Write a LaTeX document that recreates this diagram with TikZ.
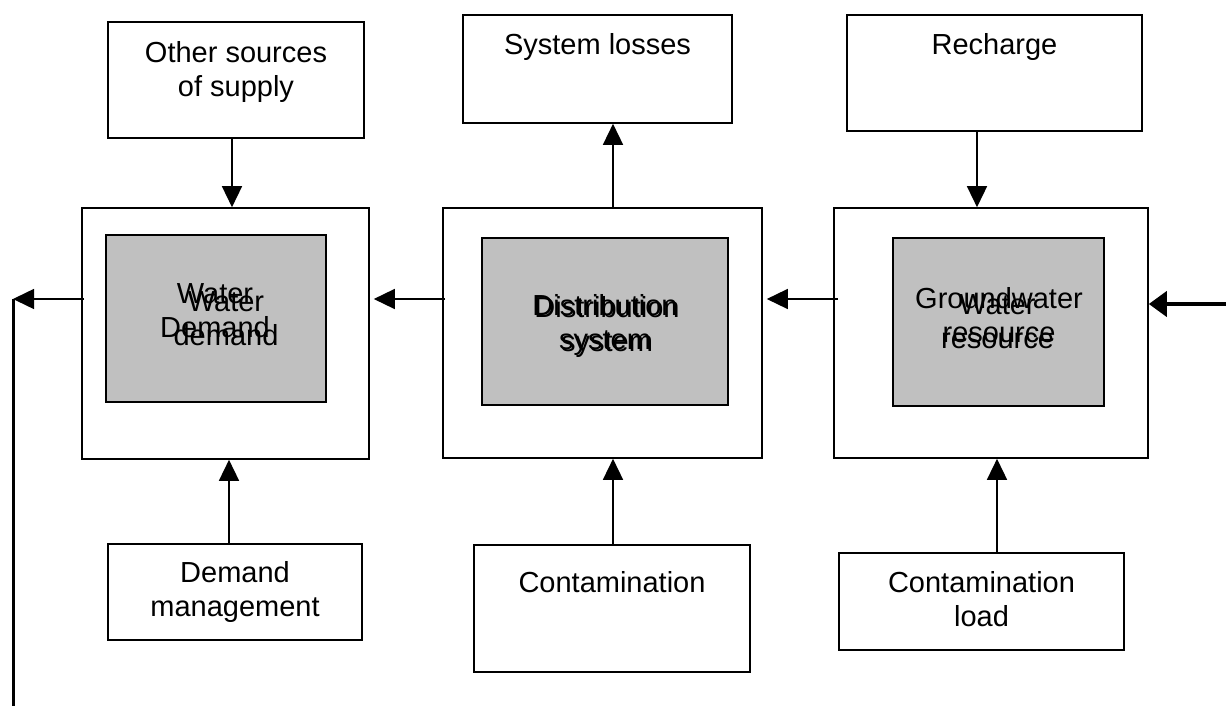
\documentclass[tikz,border=0pt]{standalone}
\usepackage{fontspec}
\setmainfont{Liberation Sans}
\usetikzlibrary{arrows.meta,fit}
\definecolor{boxgrey}{RGB}{192,192,192}
\begin{document}
\begin{tikzpicture}[x=0.75pt,y=-0.75pt,
  box/.style={draw=black,line width=1.2pt,inner sep=0pt,fill=white},
  innerbox/.style={box,fill=boxgrey},
  lbl/.style={anchor=north,align=center,inner sep=0pt,font=\fontsize{21.75pt}{25.5pt}\selectfont},
  arr/.style={line width=1.1pt,-{Triangle[length=15.75pt,width=15pt]}},
  bigarr/.style={line width=3pt,-{Triangle[length=13.5pt,width=18.75pt]}},
  feedback/.style={line width=2.25pt}]
\useasboundingbox (0,0) rectangle (1226,706);

% top boxes
\node[box,fit={(108,22) (364,138)}] (oth) {};
\node[lbl] (toth) at (236,41) {Other sources\\of supply};
\node[box,fit={(463,15) (732,123)}] (sys) {};
\node[lbl] (tsys) at (597.5,33) {System losses};
\node[box,fit={(847,15) (1142,131)}] (rec) {};
\node[lbl] (trec) at (994.5,33) {Recharge};

% main boxes
\node[box,fit={(82,208) (369,459)}] (wd) {};
\node[innerbox,fit={(106,235) (326,402)}] (wdi) {};
\node[lbl] (twd1) at (215,283) {Water\\Demand};
\node[lbl] (twd2) at (226,291) {Water\\demand};

\node[box,fit={(443,208) (762,458)}] (ds) {};
\node[innerbox,fit={(482,238) (728,405)}] (dsi) {};
\node[lbl] (tds1) at (605,294) {Distribution\\system};
\node[lbl] (tds2) at (607,296) {Distribution\\system};

\node[box,fit={(834,208) (1148,458)}] (gw) {};
\node[innerbox,fit={(893,238) (1104,406)}] (gwi) {};
\node[lbl] (tgw1) at (999,287) {Groundwater\\resource};
\node[lbl] (tgw2) at (997.5,294) {Water\\resource};

% bottom boxes
\node[box,fit={(108,544) (362,640)}] (dm) {};
\node[lbl] (tdm) at (235,561) {Demand\\management};
\node[box,fit={(474,545) (750,672)}] (con) {};
\node[lbl] (tcon) at (612,571) {Contamination};
\node[box,fit={(839,553) (1124,650)}] (cl) {};
\node[lbl] (tcl) at (981.5,571) {Contamination\\load};

% vertical connectors
\draw[arr] ([xshift=-3pt]oth.south) -- ([xshift=4.875pt]wd.north);
\draw[arr] ([xshift=7.875pt]ds.north) -- ([xshift=11.625pt]sys.south);
\draw[arr] ([xshift=-13.125pt]rec.south) -- ([xshift=-10.5pt]gw.north);
\draw[arr] ([xshift=-4.5pt]dm.north) -- ([xshift=2.625pt]wd.south);
\draw[arr] ([xshift=0.75pt]con.north) -- ([xshift=7.875pt]ds.south);
\draw[arr] ([xshift=11.625pt]cl.north) -- ([xshift=4.5pt]gw.south);

% horizontal connectors
\draw[arr] ([xshift=2.25pt,yshift=25.5pt]ds.west) -- ([xshift=3pt,yshift=25.875pt]wd.east);
\draw[arr] ([xshift=3.75pt,yshift=25.5pt]gw.west) -- ([xshift=3pt,yshift=25.5pt]ds.east);

\coordinate (fb) at (13,299);
\coordinate (fbend) at (13,706);
\coordinate (rin) at (1226,304);
\draw[arr] ([xshift=2.25pt,yshift=25.875pt]wd.west) -- (fb);
\draw[feedback] (fb) -- (fbend);
\draw[bigarr] (rin) -- ([yshift=21.75pt]gw.east);
\end{tikzpicture}
\end{document}
